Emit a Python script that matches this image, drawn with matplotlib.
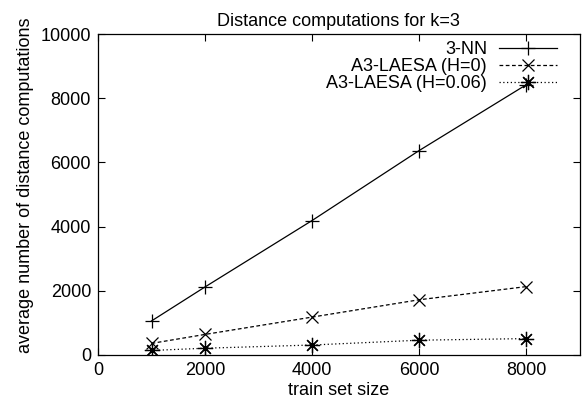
import matplotlib.pyplot as plt

plt.rcParams['font.family'] = ['Liberation Sans', 'DejaVu Sans']
plt.rcParams['font.size'] = 13

train_size = [1000, 2000, 4000, 6000, 8000]
nn3 = [1060, 2120, 4190, 6370, 8420]
laesa_h0 = [360, 640, 1180, 1720, 2130]
laesa_h006 = [140, 210, 310, 460, 510]

fig = plt.figure(figsize=(5.85, 4.08), dpi=100)
ax = fig.add_axes([0.1675, 0.130, 0.8235, 0.7865])

ax.plot(train_size, nn3, color='black', lw=0.9, ls='-', marker='+',
        ms=10, mew=0.9, label='3-NN')
ax.plot(train_size, laesa_h0, color='black', lw=0.9, ls=(0, (3, 2)), marker='x',
        ms=9, mew=0.9, label='A3-LAESA (H=0)')
ax.plot(train_size, laesa_h006, color='black', lw=0.9, ls=(0, (1, 2)), marker=(8, 2, 0),
        ms=11, mew=0.9, label='A3-LAESA (H=0.06)')

ax.set_xlim(0, 9000)
ax.set_ylim(0, 10000)
ax.set_xticks([0, 2000, 4000, 6000, 8000])
ax.set_yticks([0, 2000, 4000, 6000, 8000, 10000])
ax.tick_params(direction='in', top=True, right=True, length=5, width=0.8, pad=5)
for s in ax.spines.values():
    s.set_linewidth(0.9)

ax.set_xlabel('train set size', labelpad=2)
ax.set_ylabel('average number of distance computations', labelpad=4)
ax.yaxis.set_label_coords(-0.133, 0.53)
ax.set_title('Distance computations for k=3', fontsize=13, pad=6)

ax.legend(loc='upper right', bbox_to_anchor=(0.967, 1.0), frameon=False,
          markerfirst=False, handlelength=3.2, borderaxespad=0,
          labelspacing=0.0, handletextpad=0.65)

fig.savefig('out.png', dpi=100)
